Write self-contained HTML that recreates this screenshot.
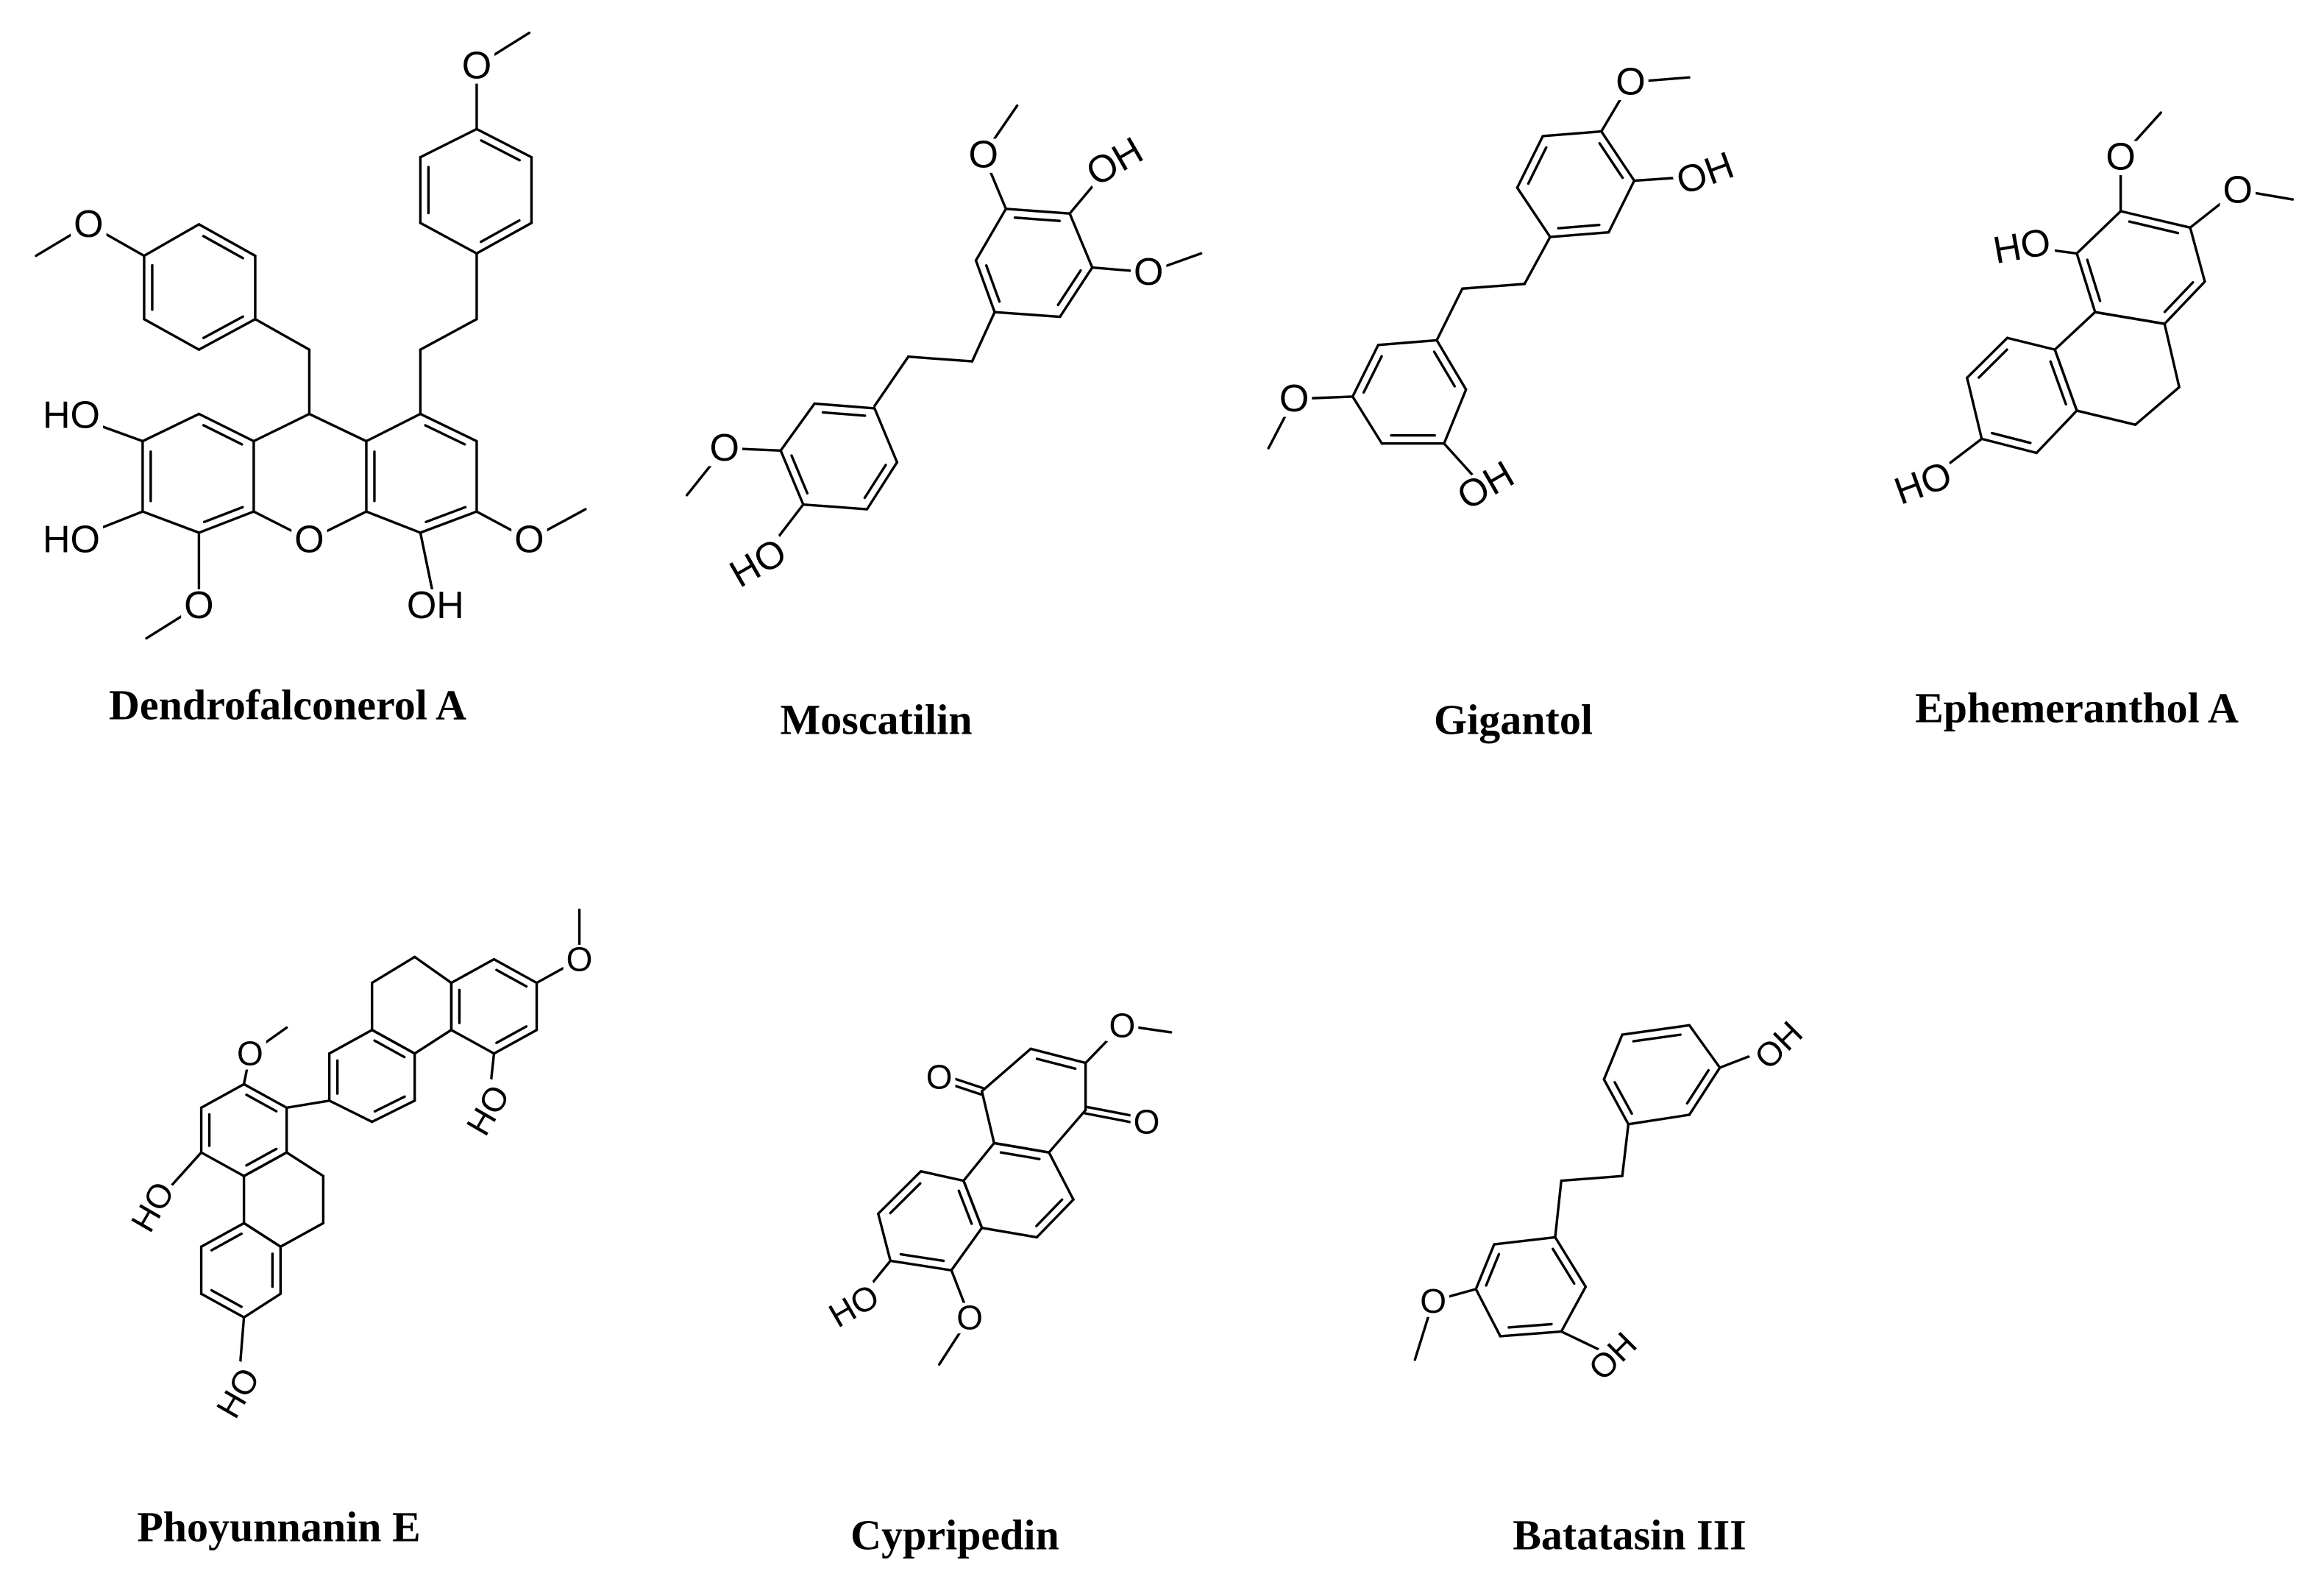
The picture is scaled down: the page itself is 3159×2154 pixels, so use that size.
<!DOCTYPE html>
<html><head><meta charset="utf-8"><style>
html,body{margin:0;padding:0;background:#fff;}
svg{display:block}
.lb{font-family:"Liberation Sans",sans-serif;text-anchor:middle;dominant-baseline:central;fill:#000;font-size:52px;}
.sm{font-size:46px;}
.nm{font-family:"Liberation Serif",serif;font-weight:bold;font-size:58px;text-anchor:middle;dominant-baseline:central;fill:#000;}
</style></head><body>
<svg id="s" width="3159" height="2154" viewBox="0 0 3159 2154" xmlns="http://www.w3.org/2000/svg">
<rect width="3159" height="2154" fill="#fff"/>
<g id="bonds" stroke="#000" stroke-width="3.4" fill="none" stroke-linecap="round"></g>
<g id="masks" fill="#fff"></g>
<g id="labels">
  <text class="lb m1" x="95" y="885">HO</text>
  <text class="lb m1" x="95" y="1150">HO</text>
  <text class="lb m1" x="412" y="1150">O</text>
  <text class="lb m1" x="265" y="1290">O</text>
  <text class="lb m1" x="580" y="1290">OH</text>
  <text class="lb m1" x="705" y="1150">O</text>
  <text class="lb m1" x="118" y="478">O</text>
  <text class="lb m1" x="635" y="140">O</text>
  <text class="lb m1" x="1310" y="330">O</text>
  <text class="lb m1" x="1485" y="345" transform="rotate(-30)">OH</text>
  <text class="lb m1" x="1530" y="580">O</text>
  <text class="lb m1" x="965" y="955">O</text>
  <text class="lb m1" x="1010" y="1200" transform="rotate(-30)">HO</text>
  <text class="lb m2" x="620" y="175">O</text>
  <text class="lb m2" x="722" y="370" transform="rotate(-20)">OH</text>
  <text class="lb m2" x="160" y="850">O</text>
  <text class="lb m2" x="422" y="1035" transform="rotate(-30)">OH</text>
  <text class="lb m2" x="1155" y="525" transform="rotate(-10)">HO</text>
  <text class="lb m2" x="1290" y="335">O</text>
  <text class="lb m2" x="1450" y="405">O</text>
  <text class="lb m2" x="1020" y="1030" transform="rotate(-20)">HO</text>
  <text class="lb sm m3" x="205" y="440">O</text>
  <text class="lb sm m3" x="125" y="765" transform="rotate(-60)">HO</text>
  <text class="lb sm m3" x="195" y="1160" transform="rotate(-60)">HO</text>
  <text class="lb sm m3" x="475" y="240">O</text>
  <text class="lb sm m3" x="400" y="560" transform="rotate(-60)">HO</text>
  <text class="lb sm m3" x="770" y="490">O</text>
  <text class="lb sm m3" x="940" y="585">O</text>
  <text class="lb sm m3" x="920" y="380">O</text>
  <text class="lb sm m3" x="700" y="975" transform="rotate(-30)">HO</text>
  <text class="lb sm m3" x="795" y="1000">O</text>
  <text class="lb sm m3" x="1458" y="422" transform="rotate(-45)">OH</text>
  <text class="lb sm m3" x="1175" y="965">O</text>
  <text class="lb sm m3" x="1322" y="1082" transform="rotate(-45)">OH</text>
</g>
<text class="nm" x="391" y="958">Dendrofalconerol  A</text>
<text class="nm" x="1191" y="978">Moscatilin</text>
<text class="nm" x="2057" y="978">Gigantol</text>
<text class="nm" x="2823" y="962">Ephemeranthol A</text>
<text class="nm" x="379" y="2075">Phoyunnanin E</text>
<text class="nm" x="1298" y="2086">Cypripedin</text>
<text class="nm" x="2215" y="2086">Batatasin III</text>
</svg>
<script>
var NS='http://www.w3.org/2000/svg';
var M={m1:function(p){return [p[0]*1.0204,p[1]*0.6378];},
m2:function(p){return [1600+p[0]*0.9943,p[1]*0.6378];},
m3:function(p){return [p[0]*1.658,1150+p[1]*0.6403];}};
var G=document.getElementById('bonds');var m=M.m1;
function L(a,b){var l=document.createElementNS(NS,'line');l.setAttribute('x1',a[0]);l.setAttribute('y1',a[1]);l.setAttribute('x2',b[0]);l.setAttribute('y2',b[1]);G.appendChild(l);}
function P(pts){pts=pts.map(m);for(var i=0;i<pts.length-1;i++)L(pts[i],pts[i+1]);}
function R(p,d){p=p.map(m);var off=11;var cx=0,cy=0;p.forEach(function(q){cx+=q[0];cy+=q[1];});cx/=6;cy/=6;
for(var i=0;i<6;i++)L(p[i],p[(i+1)%6]);
(d||[]).forEach(function(i){var a=p[i],b=p[(i+1)%6];var ex=b[0]-a[0],ey=b[1]-a[1],n=Math.hypot(ex,ey);var nx=-ey/n,ny=ex/n;var mx=(a[0]+b[0])/2,my=(a[1]+b[1])/2;if((cx-mx)*nx+(cy-my)*ny<0){nx=-nx;ny=-ny;}
var dx=nx*off,dy=ny*off,s=0.15;L([a[0]+ex*s+dx,a[1]+ey*s+dy],[b[0]-ex*s+dx,b[1]-ey*s+dy]);});}
function D(a,b){a=m(a);b=m(b);var off=9;var dx=b[0]-a[0],dy=b[1]-a[1],n=Math.hypot(dx,dy);var px=-dy/n*off/2,py=dx/n*off/2;L([a[0]+px,a[1]+py],[b[0]+px,b[1]+py]);L([a[0]-px,a[1]-py],[b[0]-px,b[1]-py]);}
m=M.m1;
R([[265,882],[338,940],[338,1090],[265,1135],[190,1090],[190,940]],[0,2,4]);
R([[560,882],[635,940],[635,1090],[560,1135],[488,1090],[488,940]],[0,2,4]);
P([[338,940],[412,882],[488,940]]);P([[338,1090],[412,1150],[488,1090]]);
R([[265,478],[340,545],[340,680],[265,745],[192,680],[192,545]],[0,2,4]);
R([[635,275],[708,335],[708,475],[635,540],[560,475],[560,335]],[0,2,4]);
P([[412,882],[412,745],[340,680]]);P([[635,540],[635,680],[560,745],[560,882]]);
P([[635,275],[635,140],[705,70]]);P([[192,545],[118,478],[48,545]]);
P([[190,940],[95,885]]);P([[190,1090],[95,1150]]);P([[265,1135],[265,1290],[195,1360]]);
P([[560,1135],[580,1290]]);P([[635,1090],[705,1150],[780,1085]]);
R([[1340,445],[1425,455],[1455,570],[1412,675],[1325,665],[1300,555]],[0,2,4]);
P([[1340,445],[1310,330],[1355,225]]);P([[1425,455],[1480,350]]);P([[1455,570],[1530,580],[1600,540]]);
P([[1325,665],[1295,770],[1210,760],[1165,865]]);
R([[1085,860],[1165,870],[1195,985],[1155,1085],[1070,1075],[1040,960]],[0,2,4]);
P([[1040,960],[965,955],[915,1055]]);P([[1070,1075],[1010,1200]]);
m=M.m2;
R([[500,290],[580,280],[625,385],[590,495],[510,505],[465,400]],[1,3,5]);
P([[580,280],[620,175],[700,165]]);P([[625,385],[720,375]]);
P([[510,505],[475,605],[390,615],[355,725]]);
R([[275,735],[355,725],[395,830],[365,945],[280,945],[240,845]],[1,3,5]);
P([[240,845],[160,850],[125,955]]);P([[365,945],[420,1040]]);
R([[1290,450],[1385,485],[1405,600],[1350,690],[1255,665],[1230,540]],[0,2,4]);
R([[1255,665],[1350,690],[1370,825],[1310,905],[1230,875],[1200,745]],[]);
R([[1135,720],[1200,745],[1230,875],[1175,965],[1100,935],[1080,805]],[1,3,5]);
P([[1230,540],[1155,525]]);P([[1290,450],[1290,335],[1345,240]]);P([[1385,485],[1450,405],[1525,425]]);P([[1100,935],[1020,1030]]);
m=M.m3;
R([[200,505],[235,555],[235,650],[200,700],[165,650],[165,555]],[0,2,4]);
R([[235,650],[265,700],[265,800],[230,850],[200,800],[200,700]],[]);
R([[200,800],[230,850],[230,950],[200,1000],[165,950],[165,850]],[1,3,5]);
R([[305,390],[340,440],[340,540],[305,585],[270,540],[270,440]],[0,2,4]);
R([[305,390],[305,290],[340,235],[370,290],[370,390],[340,440]],[]);
R([[370,290],[405,240],[440,290],[440,390],[405,440],[370,390]],[1,3,5]);
P([[235,555],[270,540]]);P([[200,505],[205,440],[235,385]]);P([[165,650],[125,765]]);P([[200,1000],[195,1160]]);
P([[440,290],[475,240],[475,135]]);P([[405,440],[400,560]]);
R([[805,520],[845,430],[890,460],[890,560],[860,650],[815,630]],[1]);
R([[815,630],[860,650],[880,750],[850,830],[805,810],[790,710]],[0,2]);
R([[755,690],[790,710],[805,810],[780,900],[730,880],[720,780]],[1,3,5]);
D([805,520],[770,490]);D([890,560],[940,585]);
P([[890,460],[920,380],[960,395]]);P([[730,880],[700,975]]);P([[780,900],[795,1000],[770,1100]]);
R([[1330,400],[1385,380],[1410,470],[1385,570],[1335,590],[1315,495]],[0,2,4]);
P([[1410,470],[1458,422]]);P([[1335,590],[1330,700],[1280,710],[1275,830]]);
R([[1225,845],[1275,830],[1300,935],[1280,1030],[1230,1040],[1210,940]],[1,3,5]);
P([[1210,940],[1175,965],[1160,1090]]);P([[1280,1030],[1322,1082]]);
var MK=document.getElementById('masks');
var ts=document.querySelectorAll('#labels text');
for(var i=0;i<ts.length;i++){var t=ts[i];var k=t.classList.contains('m1')?'m1':t.classList.contains('m2')?'m2':'m3';
var q=M[k]([+t.getAttribute('x'),+t.getAttribute('y')]);t.setAttribute('x',q[0]);t.setAttribute('y',q[1]);
var tr=t.getAttribute('transform');var a=0;if(tr){a=parseFloat(tr.replace('rotate(',''));t.setAttribute('transform','rotate('+a+' '+q[0]+' '+q[1]+')');}
var bb=t.getBBox();var r=document.createElementNS(NS,'rect');var pad=4;
r.setAttribute('x',bb.x-pad);r.setAttribute('y',bb.y+bb.height*0.12);r.setAttribute('width',bb.width+2*pad);r.setAttribute('height',bb.height*0.8);
if(a)r.setAttribute('transform','rotate('+a+' '+q[0]+' '+q[1]+')');MK.appendChild(r);}
</script>
</body></html>
